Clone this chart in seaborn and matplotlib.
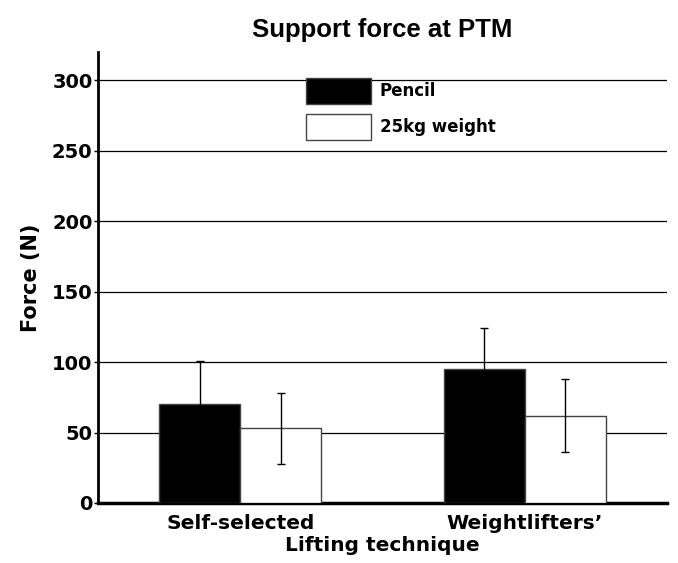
import numpy as np
import pandas as pd
import matplotlib
matplotlib.use('Agg')
import matplotlib.pyplot as plt
import seaborn as sns

# Dados
tecnicas = ['Self-selected', 'Weightlifters\u2019']
cargas = ['Pencil', '25kg weight']
media_pencil = [70, 95]
media_peso = [53, 62]
dp_pencil = [31, 29.5]
dp_peso = [25, 26]
yticks = [0, 50, 100, 150, 200, 250, 300]

df = pd.DataFrame({
    'tecnica': tecnicas * 2,
    'carga': [cargas[0]] * 2 + [cargas[1]] * 2,
    'forca': media_pencil + media_peso,
    'dp': dp_pencil + dp_peso,
})

sns.set_theme(style='white')
plt.rcParams['font.family'] = ['DejaVu Sans']
plt.rcParams['text.color'] = 'black'
plt.rcParams['axes.labelcolor'] = 'black'
plt.rcParams['xtick.color'] = 'black'
plt.rcParams['ytick.color'] = 'black'

fig = plt.figure(figsize=(6.78, 5.63), dpi=100)
ax = fig.add_axes([98 / 678, 1 - 503 / 563, (667 - 98) / 678, (503 - 52) / 563])

sns.barplot(data=df, x='tecnica', y='forca', hue='carga', hue_order=cargas,
            palette=['black', 'white'], width=0.57, errorbar=None,
            edgecolor='#444444', linewidth=1, ax=ax, zorder=3)

# barras de erro sobre cada barra
barras = [p for p in ax.patches if p.get_height() > 0][:4]
for p, (_, linha) in zip(barras, df.iterrows()):
    xc = p.get_x() + p.get_width() / 2
    ax.errorbar(xc, p.get_height(), yerr=linha['dp'], fmt='none', ecolor='black',
                elinewidth=1, capsize=3, capthick=1, zorder=4)

ax.set_ylim(0, 320)
ax.set_xlim(-0.5, 1.5)
ax.set_yticks(yticks)
ax.set_yticklabels([str(t) for t in yticks], fontweight='bold', fontsize=14)
ax.set_xticks([0, 1])
ax.set_xticklabels(tecnicas, fontweight='bold', fontsize=14.5)
ax.yaxis.grid(True, color='black', linewidth=0.9)
ax.set_axisbelow(True)
ax.tick_params(axis='y', length=3, width=1, color='black', left=True, pad=1)
ax.tick_params(axis='x', length=0, pad=8)

for s in ['top', 'right']:
    ax.spines[s].set_visible(False)
ax.spines['left'].set_linewidth(2)
ax.spines['left'].set_color('black')
ax.spines['bottom'].set_linewidth(2.5)
ax.spines['bottom'].set_color('black')

ax.set_xlabel('Lifting technique', fontweight='bold', fontsize=14.5, labelpad=2)
ax.set_ylabel('Force (N)', fontweight='bold', fontsize=15, labelpad=8)
fig.suptitle('Support force at PTM', fontweight='bold', fontsize=18.5,
             family='Liberation Sans', x=(98 + 667) / 2 / 678, y=1 - 18 / 563, va='top')

leg = ax.legend(loc='upper left', bbox_to_anchor=(0.34, 0.975), frameon=False,
                prop={'weight': 'bold', 'size': 12}, handlelength=3.9,
                handleheight=2.0, labelspacing=0.6, handletextpad=0.5)

fig.savefig('out.png', dpi=100)
